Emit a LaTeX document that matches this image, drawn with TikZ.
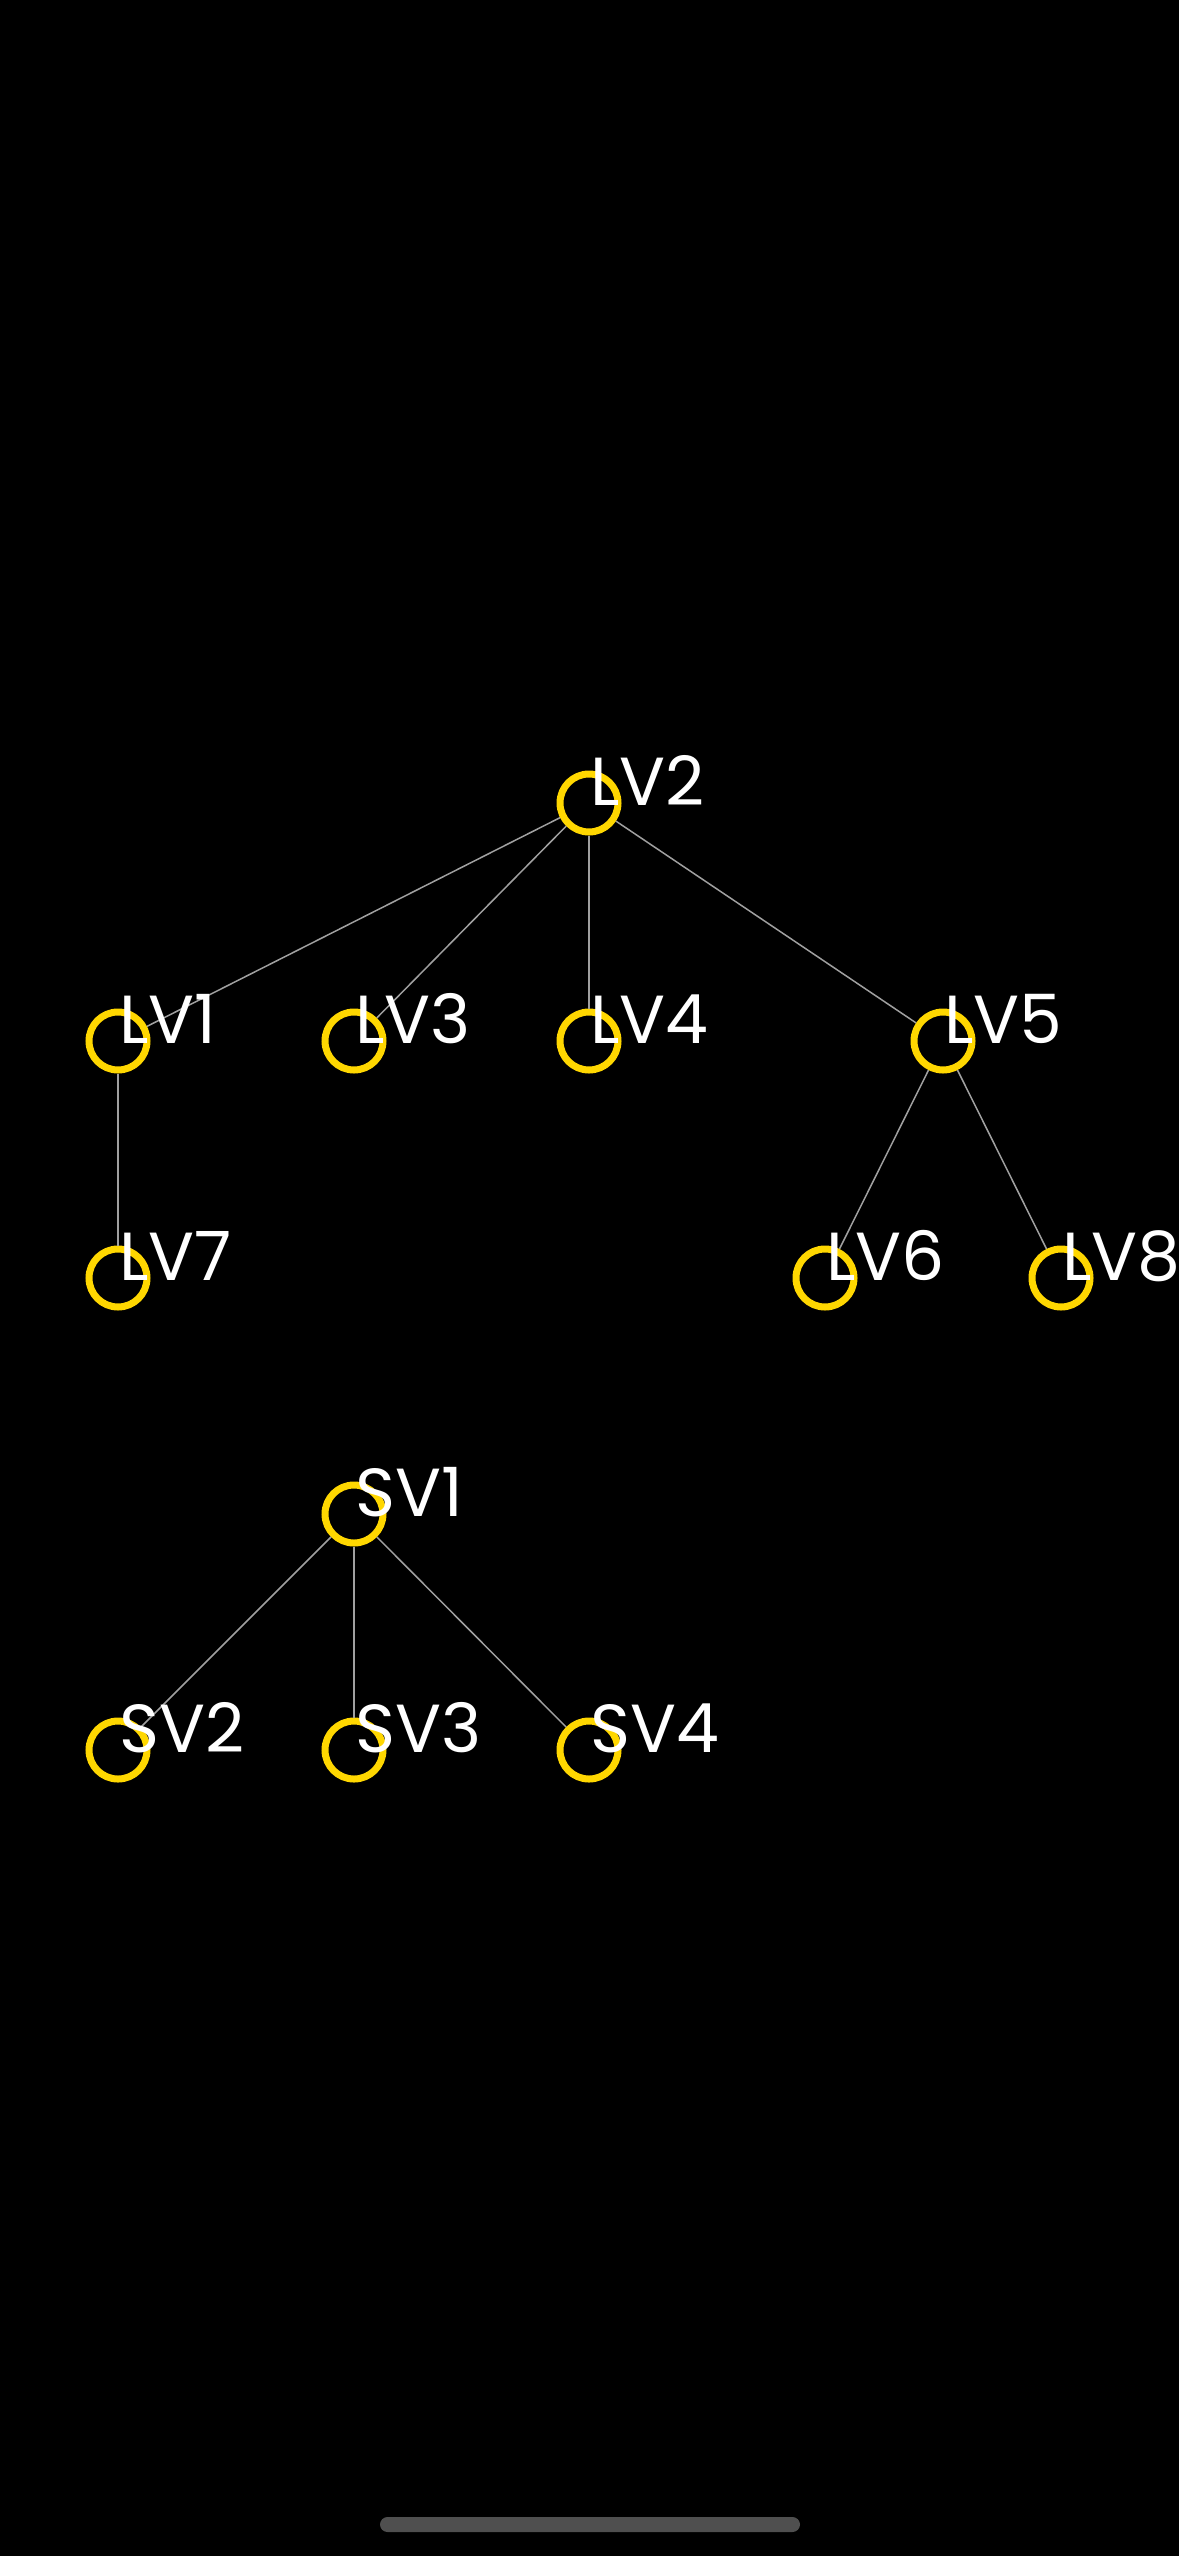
\documentclass[tikz,border=0pt]{standalone}
\usepackage{fontspec}
\setmainfont{Poppins}
\usetikzlibrary{backgrounds}
\definecolor{ring}{RGB}{255,215,0}
\definecolor{edgegray}{RGB}{160,160,160}
\definecolor{barcol}{RGB}{79,79,79}
\tikzset{
  vert/.style={circle,draw=ring,line width=7pt,minimum size=58pt,inner sep=0pt,outer sep=3.5pt},
  lbl/.style={anchor=base west,inner sep=0pt,text=white,font=\fontsize{68}{72}\selectfont},
  conn/.style={draw=edgegray,line width=1.5pt}
}
\begin{document}
\begin{tikzpicture}[x=1pt,y=-1pt]
\fill[black] (0,0) rectangle (1179,2556);
\useasboundingbox (0,0) rectangle (1179,2556);
% vertices
\node[vert] (LV2) at (589,803) {};
\node[vert] (LV1) at (118,1041) {};
\node[vert] (LV3) at (354,1041) {};
\node[vert] (LV4) at (589,1041) {};
\node[vert] (LV5) at (943,1041) {};
\node[vert] (LV7) at (118,1278) {};
\node[vert] (LV6) at (825,1278) {};
\node[vert] (LV8) at (1061,1278) {};
\node[vert] (SV1) at (354,1514) {};
\node[vert] (SV2) at (118,1750) {};
\node[vert] (SV3) at (354,1750) {};
\node[vert] (SV4) at (589,1750) {};
% connectors
\draw[conn] (LV2) -- (LV1);
\draw[conn] (LV2) -- (LV3);
\draw[conn] (LV2) -- (LV4);
\draw[conn] (LV2) -- (LV5);
\draw[conn] (LV1) -- (LV7);
\draw[conn] (LV5) -- (LV6);
\draw[conn] (LV5) -- (LV8);
\draw[conn] (SV1) -- (SV2);
\draw[conn] (SV1) -- (SV3);
\draw[conn] (SV1) -- (SV4);
% labels
\foreach \n in {LV1,LV2,LV3,LV4,LV5,LV6,LV7,LV8,SV1,SV2,SV3,SV4}{
  \node[lbl] (t\n) at ([xshift=1pt,yshift=-2pt]\n.center) {\n};
}
% home indicator
\fill[barcol,rounded corners=7.5pt] (380,2517) rectangle (800,2532);
\end{tikzpicture}
\end{document}
